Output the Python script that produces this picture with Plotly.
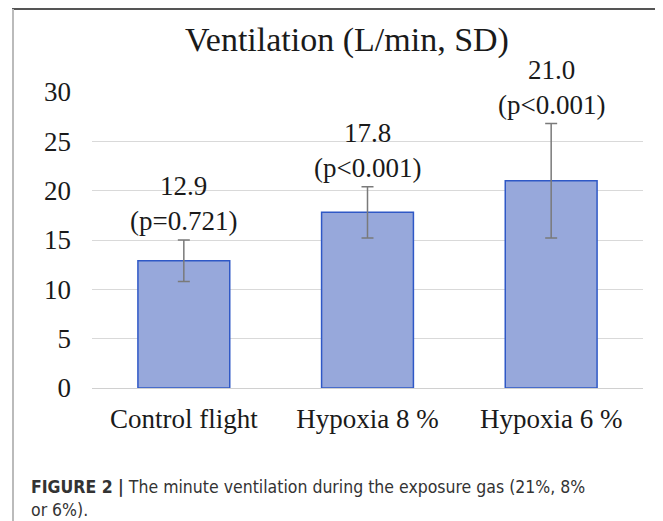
import plotly.graph_objects as go

categories = ["Control flight", "Hypoxia 8 %", "Hypoxia 6 %"]
means = [12.9, 17.8, 21.0]
sds = [2.1, 2.6, 5.8]
p_labels = ["(p=0.721)", "(p<0.001)", "(p<0.001)"]
y_ticks = [0, 5, 10, 15, 20, 25, 30]

SERIF = "Liberation Serif, Times New Roman, serif"
SANS = "Liberation Sans Narrow, Arial Narrow, DejaVu Sans Condensed, sans-serif"

# the page body adds an 8px margin, so the figure is sized to fit inside it
OFF = 8
W, H = 663 - OFF, 521 - OFF
L, R, T, B = 92 - OFF, 28 - OFF, 92 - OFF, 133
pw, ph = W - L - R, H - T - B


def px_x(x):
    # x in reference pixels -> paper coords
    return (x - OFF - L) / pw


def px_y(y):
    # y in reference pixels -> paper coords
    return (H - B - (y - OFF)) / ph


fig = go.Figure()

fig.add_trace(
    go.Bar(
        x=categories,
        y=means,
        width=0.5,
        marker={"color": "#97A8DB", "line": {"color": "#2F58C6", "width": 1.5}},
        error_y={
            "type": "data",
            "array": sds,
            "visible": True,
            "color": "#7A7A7A",
            "thickness": 1.5,
            "width": 6,
        },
        showlegend=False,
        hoverinfo="skip",
    )
)

for cat, m, sd, p in zip(categories, means, sds, p_labels):
    fig.add_annotation(
        x=cat,
        y=m + sd,
        text=f"{m:.1f}<br>{p}",
        showarrow=False,
        yanchor="bottom",
        yshift=2,
        font={"family": SERIF, "size": 27, "color": "#1a1a1a"},
    )

# caption below the chart
fig.add_annotation(
    xref="paper",
    yref="paper",
    x=px_x(29),
    y=px_y(475),
    xanchor="left",
    yanchor="top",
    align="left",
    showarrow=False,
    text="<b>FIGURE 2 |</b> The minute ventilation during the exposure gas (21%, 8%<br>or 6%).",
    font={"family": SANS, "size": 17.5, "color": "#333333"},
)

# frame lines
fig.add_shape(type="line", xref="paper", yref="paper",
              x0=px_x(12), x1=px_x(662), y0=px_y(9), y1=px_y(9),
              line={"color": "#555555", "width": 2})
fig.add_shape(type="line", xref="paper", yref="paper",
              x0=px_x(13), x1=px_x(13), y0=px_y(9), y1=px_y(530),
              line={"color": "#BBBBBB", "width": 2})
fig.add_shape(type="line", xref="paper", yref="paper",
              x0=px_x(661), x1=px_x(661), y0=px_y(9), y1=px_y(530),
              line={"color": "#777777", "width": 2})

fig.update_layout(
    width=W,
    height=H,
    margin={"l": L, "r": R, "t": T, "b": B},
    paper_bgcolor="white",
    plot_bgcolor="white",
    bargap=0.5,
    title={
        "text": "Ventilation (L/min, SD)",
        "x": (347 - OFF) / W,
        "xanchor": "center",
        "y": 1 - (39 - OFF) / H,
        "yanchor": "middle",
        "font": {"family": SERIF, "size": 34, "color": "#1a1a1a"},
    },
    xaxis={
        "showgrid": False,
        "showline": False,
        "ticks": "",
        "ticklabelstandoff": 12,
        "tickfont": {"family": SERIF, "size": 27, "color": "#1a1a1a"},
    },
    yaxis={
        "range": [0, 30],
        "tickvals": y_ticks,
        "showgrid": True,
        "gridcolor": "#D9D9D9",
        "gridwidth": 1,
        "zeroline": True,
        "zerolinecolor": "#D0D0D0",
        "zerolinewidth": 1,
        "showline": False,
        "ticks": "",
        "ticklabelstandoff": 20,
        "tickfont": {"family": SERIF, "size": 27, "color": "#1a1a1a"},
    },
)

fig.write_html("out.html")
